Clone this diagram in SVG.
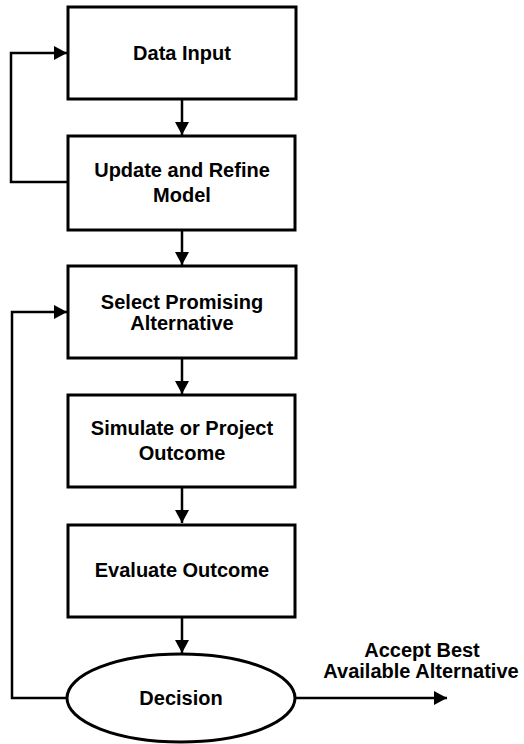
<svg xmlns="http://www.w3.org/2000/svg" width="524" height="744" viewBox="0 0 524 744">
<style>
.box{fill:#fff;stroke:#000;stroke-width:3}
.t{font-family:"Liberation Sans",Arial,sans-serif;font-weight:bold;font-size:20px;fill:#000;text-anchor:middle;dominant-baseline:central}
.c{fill:none;stroke:#000;stroke-width:2.5}
</style>
<defs>
<marker id="ah" markerUnits="userSpaceOnUse" markerWidth="14" markerHeight="14" refX="13" refY="7" orient="auto">
<path d="M0,0 L13,7 L0,14 Z" fill="#000"/>
</marker>
</defs>
<rect width="524" height="744" fill="#fff"/>
<g id="connectors">
<path class="c" d="M182,99 V135" marker-end="url(#ah)"/>
<path class="c" d="M68,182 H11 V53 H67" marker-end="url(#ah)"/>
<path class="c" d="M182,230 V265" marker-end="url(#ah)"/>
<path class="c" d="M182,358 V394" marker-end="url(#ah)"/>
<path class="c" d="M182,487 V523" marker-end="url(#ah)"/>
<path class="c" d="M182,617 V653" marker-end="url(#ah)"/>
<path class="c" d="M68,698 H12 V312 H67" marker-end="url(#ah)"/>
<path class="c" d="M295,698 H447" marker-end="url(#ah)"/>
</g>
<g id="data-input">
<rect class="box" x="68" y="7" width="228" height="92"/>
<text class="t" x="182" y="53">Data Input</text>
</g>
<g id="update-model">
<rect class="box" x="68" y="136" width="227" height="94"/>
<text class="t" x="182" y="170">Update and Refine</text>
<text class="t" x="182" y="195">Model</text>
</g>
<g id="select-alternative">
<rect class="box" x="68" y="266" width="228" height="92"/>
<text class="t" x="182" y="302">Select Promising</text>
<text class="t" x="182" y="323">Alternative</text>
</g>
<g id="simulate">
<rect class="box" x="68" y="395" width="227" height="92"/>
<text class="t" x="182" y="428">Simulate or Project</text>
<text class="t" x="182" y="453">Outcome</text>
</g>
<g id="evaluate">
<rect class="box" x="68" y="525" width="227" height="92"/>
<text class="t" x="182" y="570">Evaluate Outcome</text>
</g>
<g id="decision">
<ellipse class="box" cx="181" cy="698" rx="114" ry="44"/>
<text class="t" x="181" y="698">Decision</text>
</g>
<g id="accept-label">
<text class="t" x="422" y="650">Accept Best</text>
<text class="t" x="421" y="671">Available Alternative</text>
</g>
</svg>
